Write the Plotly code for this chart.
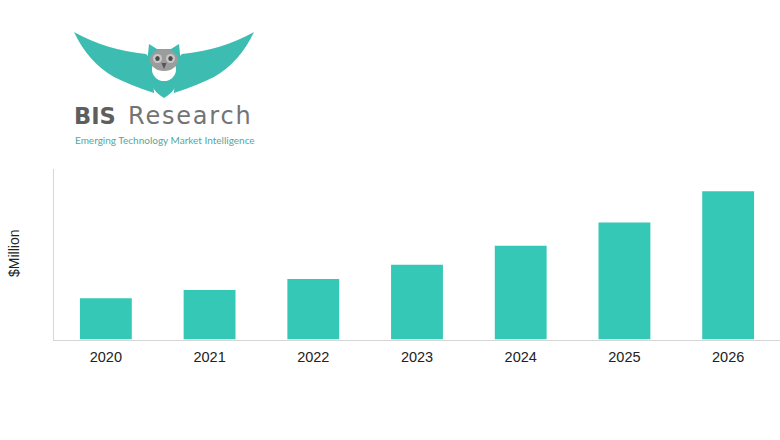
import plotly.graph_objects as go

W, H = 780, 440

years = ["2020", "2021", "2022", "2023", "2024", "2025", "2026"]
values = [41, 49, 60, 74, 93, 116, 147]
y_max = 169

BAR = "#36C8B7"
TEAL = "#3DBDB1"
AXIS = "#D6D6D6"

def px(x):
    return x / W

def py(y):
    return 1 - y / H

def path(pts, close=True):
    out = []
    for p in pts:
        cmd = p[0]
        coords = p[1:]
        conv = []
        for i in range(0, len(coords), 2):
            conv.append(f"{px(coords[i]):.5f},{py(coords[i+1]):.5f}")
        out.append(cmd + " " + " ".join(conv))
    return " ".join(out) + (" Z" if close else "")

def mirror(pts, cx=164):
    res = []
    for p in pts:
        c = list(p[1:])
        for i in range(0, len(c), 2):
            c[i] = 2 * cx - c[i]
        res.append((p[0],) + tuple(c))
    return res

fig = go.Figure()
fig.add_trace(go.Bar(
    x=years, y=values, marker=dict(color=BAR, line=dict(width=0)),
    hoverinfo="skip", showlegend=False,
))

shapes = []
left_wing = [("M", 74, 32), ("Q", 106, 50, 146, 54), ("L", 152, 60), ("L", 154, 93),
             ("Q", 132, 86, 114, 77), ("Q", 88, 62, 74, 32)]
for wing in (left_wing, mirror(left_wing)):
    shapes.append(dict(type="path", xref="paper", yref="paper", path=path(wing),
                       fillcolor=TEAL, line=dict(width=0)))
body = [("M", 148, 62), ("L", 180, 62), ("Q", 182, 88, 164, 98), ("Q", 146, 88, 148, 62)]
shapes.append(dict(type="path", xref="paper", yref="paper", path=path(body),
                   fillcolor=TEAL, line=dict(width=0)))
head = [("M", 149, 44), ("L", 157, 49), ("L", 171, 49), ("L", 179, 44),
        ("L", 181, 64), ("L", 147, 64)]
shapes.append(dict(type="path", xref="paper", yref="paper", path=path(head),
                   fillcolor=TEAL, line=dict(width=0)))
shapes.append(dict(type="circle", xref="paper", yref="paper",
                   x0=px(152), x1=px(176), y0=py(81), y1=py(58),
                   fillcolor="white", line=dict(width=0)))
shapes.append(dict(type="circle", xref="paper", yref="paper",
                   x0=px(150), x1=px(178), y0=py(71), y1=py(49),
                   fillcolor="#9C9C9C", line=dict(width=0)))
for ex in (157.5, 170.5):
    shapes.append(dict(type="circle", xref="paper", yref="paper",
                       x0=px(ex - 4.5), x1=px(ex + 4.5), y0=py(63), y1=py(54),
                       fillcolor="#C8C8C8", line=dict(width=0)))
    shapes.append(dict(type="circle", xref="paper", yref="paper",
                       x0=px(ex - 2.2), x1=px(ex + 2.2), y0=py(61), y1=py(56),
                       fillcolor="#4A4A4A", line=dict(width=0)))
shapes.append(dict(type="path", xref="paper", yref="paper",
                   path=path([("M", 161.5, 63), ("L", 166.5, 63), ("L", 164, 69)]),
                   fillcolor="#555555", line=dict(width=0)))

annotations = [
    dict(text="<b>BIS</b>", x=px(72), y=py(116), xref="paper", yref="paper",
         xanchor="left", yanchor="middle", showarrow=False,
         font=dict(family="DejaVu Sans", size=22.5, color="#5E5E5E")),
    dict(text='<span style="letter-spacing:1.8px">Research</span>', x=px(126), y=py(116),
         xref="paper", yref="paper", xanchor="left", yanchor="middle", showarrow=False,
         font=dict(family="DejaVu Sans", size=24, color="#747474")),
    dict(text="Emerging Technology Market Intelligence", x=px(73), y=py(140),
         xref="paper", yref="paper", xanchor="left", yanchor="middle", showarrow=False,
         font=dict(family="Lato", size=10, color="#4FA9A2")),
    dict(text="$Million", x=px(14), y=py(253), xref="paper", yref="paper",
         xanchor="center", yanchor="middle", showarrow=False, textangle=-90,
         font=dict(family="Liberation Sans, Arial", size=14, color="#222222")),
]

fig.update_layout(
    width=W, height=H,
    margin=dict(l=0, r=0, t=0, b=0),
    paper_bgcolor="white", plot_bgcolor="white",
    bargap=0.5,
    shapes=shapes,
    annotations=annotations,
    font=dict(family="Liberation Sans, Arial", size=14, color="#222222"),
    xaxis=dict(domain=[px(54), 1], showline=True, linecolor=AXIS, linewidth=1.5,
               ticks="", showgrid=False, zeroline=False, ticklabelstandoff=4,
               tickfont=dict(size=14.5, color="#222222"), fixedrange=True),
    yaxis=dict(domain=[py(339.5), py(169)], range=[0, y_max], showline=True,
               linecolor=AXIS, linewidth=1.5, showticklabels=False, ticks="",
               showgrid=False, zeroline=False, fixedrange=True),
)

fig.write_html("out.html", config={"displayModeBar": False, "staticPlot": True},
               post_script="document.body.style.margin='0';")
